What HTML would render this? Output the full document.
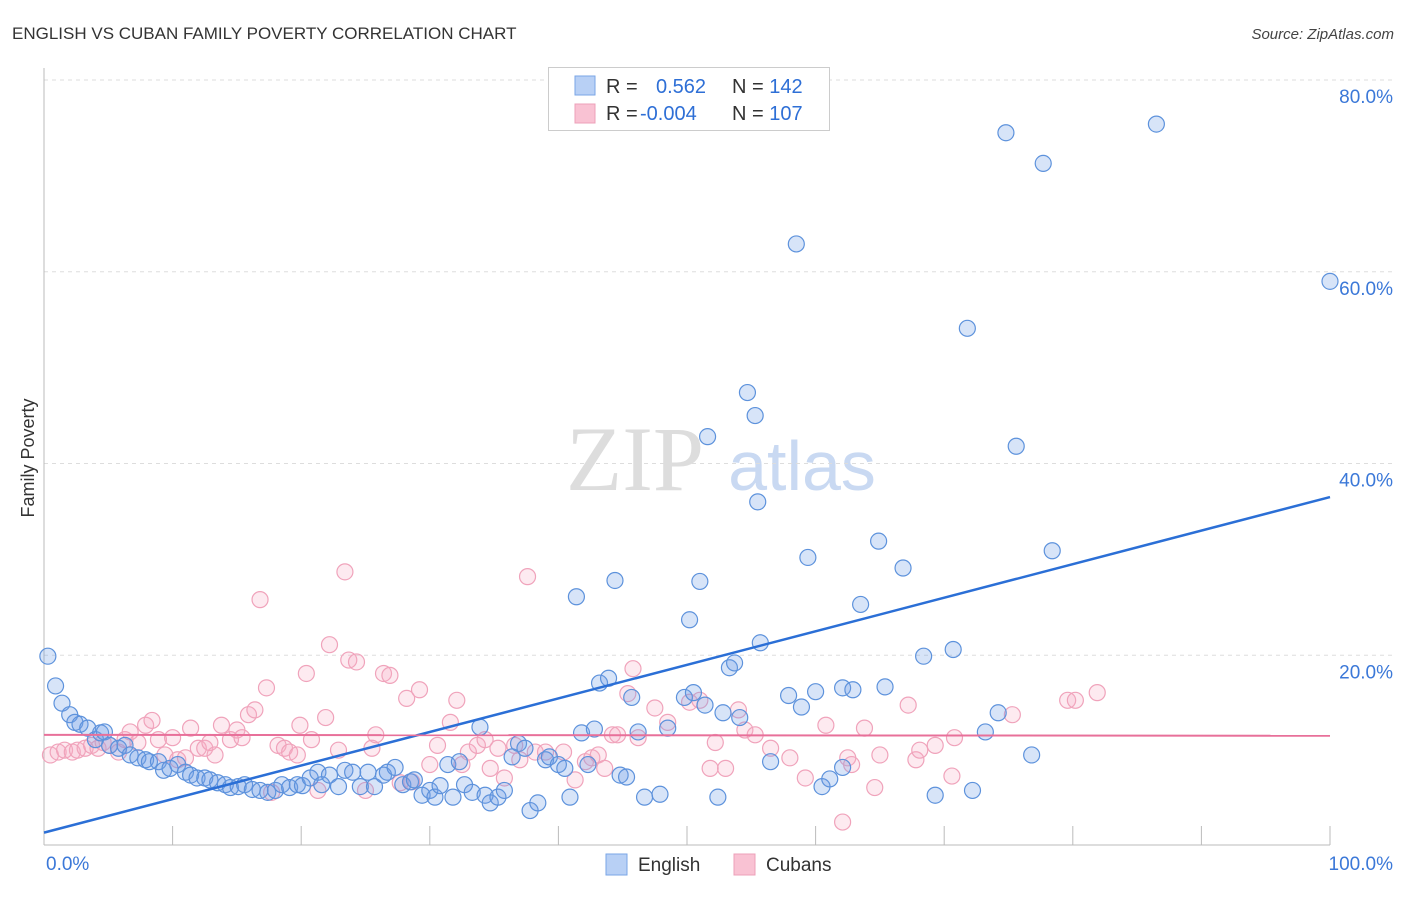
<!DOCTYPE html>
<html><head><meta charset="utf-8"><style>
body{margin:0;background:#fff;font-family:"Liberation Sans",sans-serif}
svg text{font-family:"Liberation Sans",sans-serif}
</style></head><body>
<svg id="chart" width="1406" height="892">
<text x="12" y="39" font-size="17" fill="#333">ENGLISH VS CUBAN FAMILY POVERTY CORRELATION CHART</text>
<text x="1394" y="39" font-size="15" fill="#444" font-style="italic" text-anchor="end">Source: ZipAtlas.com</text>
<text x="34" y="458" font-size="18" fill="#333" transform="rotate(-90 34 458)" text-anchor="middle">Family Poverty</text>
<g>
<text x="635" y="490" font-size="92" fill="#ddd" font-family="Liberation Serif" text-anchor="middle" style="font-family:'Liberation Serif',serif">ZIP</text>
<text x="802" y="490" font-size="70" fill="#c9d9f2" text-anchor="middle">atlas</text>
</g>
<g id="grid"></g><g id="pts"></g><g id="trends"></g>
<g>
<rect x="548.5" y="67.5" width="281" height="63" fill="#fff" stroke="#ccc"/>
<rect x="575" y="76" width="20" height="19" fill="#b8d0f5" stroke="#7aa6e6"/>
<rect x="575" y="104" width="20" height="19" fill="#f9c2d3" stroke="#eda0b8"/>
<text x="606" y="93" font-size="20" fill="#333">R = <tspan x="656" fill="#2e6fd6">0.562</tspan><tspan x="732" fill="#333">N = </tspan><tspan fill="#2e6fd6">142</tspan></text>
<text x="606" y="120" font-size="20" fill="#333">R = <tspan x="640" fill="#2e6fd6">-0.004</tspan><tspan x="732" fill="#333">N = </tspan><tspan fill="#2e6fd6">107</tspan></text>
</g>
<g>
<rect x="606" y="854" width="21" height="21" fill="#b8d0f5" stroke="#7aa6e6"/>
<text x="638" y="871" font-size="19" fill="#333">English</text>
<rect x="734" y="854" width="21" height="21" fill="#f9c2d3" stroke="#eda0b8"/>
<text x="766" y="871" font-size="19" fill="#333">Cubans</text>
</g>
</svg>
<script>
const xTicks=[0,10,20,30,40,50,60,70,80,90,100];
const yTicks=[20,40,60,80];
const yTickLabels=["20.0%","40.0%","60.0%","80.0%"];
const xLabels=["0.0%","100.0%"];
const engX=[0.3,0.9,1.4,2.0,2.4,2.8,3.4,4.0,4.4,4.7,5.1,5.8,6.3,6.7,7.3,7.9,8.2,8.9,9.3,9.8,10.4,11.0,11.4,11.9,12.5,12.9,13.5,14.1,14.5,15.1,15.6,16.2,16.8,17.4,18.0,18.5,19.1,19.7,20.1,20.7,21.3,21.6,22.2,22.9,23.4,24.0,24.6,25.2,25.7,26.4,26.7,27.3,27.9,28.5,28.8,29.4,30.0,30.4,30.8,31.4,31.8,32.3,32.7,33.3,33.9,34.3,34.7,35.3,35.8,36.4,36.9,37.4,37.8,38.4,39.0,39.3,40.0,40.5,40.9,41.4,41.8,42.3,42.8,43.2,43.9,44.4,44.8,45.3,45.7,46.2,46.7,47.9,48.5,49.8,50.2,50.5,51.0,51.4,51.6,52.4,52.8,53.3,53.7,54.1,54.7,55.3,55.5,55.7,56.5,57.9,58.5,58.9,59.4,60.0,60.5,61.1,62.1,62.1,62.9,63.5,64.9,65.4,66.8,68.4,69.3,70.7,71.8,72.2,73.2,74.2,74.8,75.6,76.8,77.7,78.4,86.5,100.0];
const engY=[19.9,16.8,15.0,13.8,13.0,12.8,12.4,11.2,11.9,12.0,10.6,10.3,10.6,9.6,9.3,9.1,8.9,8.9,8.0,8.2,8.6,7.8,7.5,7.2,7.2,7.0,6.7,6.5,6.2,6.3,6.5,6.0,5.9,5.7,5.9,6.5,6.2,6.5,6.4,7.2,7.8,6.5,7.5,6.3,8.0,7.8,6.3,7.8,6.3,7.5,7.8,8.3,6.5,6.8,7.0,5.4,5.9,5.2,6.4,8.6,5.2,8.9,6.5,5.7,12.5,5.4,4.6,5.2,5.9,9.4,10.8,10.3,3.8,4.6,9.1,9.4,8.6,8.2,5.2,26.1,11.9,8.6,12.3,17.1,17.6,27.8,7.5,7.3,15.6,12.0,5.2,5.5,12.4,15.6,23.7,16.1,27.7,14.8,42.8,5.2,14.0,18.7,19.2,13.5,47.4,45.0,36.0,21.3,8.9,15.8,62.9,14.6,30.2,16.2,6.3,7.1,8.3,16.6,16.4,25.3,31.9,16.7,29.1,19.9,5.4,20.6,54.1,5.9,12.0,14.0,74.5,41.8,9.6,71.3,30.9,75.4,59.0];
const cubX=[0.5,1.1,1.6,2.2,2.6,3.2,3.7,4.2,4.6,5.1,5.8,6.3,6.7,7.3,7.9,8.4,8.9,9.4,10.0,10.4,11.0,11.4,12.0,12.5,12.9,13.3,13.8,14.5,15.0,15.4,15.9,16.4,16.8,17.3,17.7,18.2,18.7,19.1,19.7,19.9,20.4,20.8,21.3,21.9,22.2,22.9,23.4,23.7,24.3,25.0,25.5,25.8,26.4,26.9,27.7,28.2,28.6,29.2,30.0,30.6,31.6,32.1,32.5,33.0,33.7,34.3,34.7,35.3,35.8,36.6,37.0,37.6,38.2,39.0,40.4,41.3,42.1,42.6,43.1,43.6,44.2,44.6,45.4,45.8,46.2,47.5,48.5,50.2,51.0,51.8,52.2,53.0,54.0,54.5,55.3,56.5,58.0,59.2,60.8,62.1,62.5,62.8,63.8,64.6,65.0,67.2,67.8,68.1,69.3,70.6,70.8,75.3,79.6,80.2,81.9];
const cubY=[9.6,9.9,10.1,9.9,10.1,10.3,10.6,10.3,10.9,10.6,9.9,11.2,12.0,10.9,12.7,13.2,11.2,9.6,11.4,9.1,9.3,12.4,10.3,10.3,10.9,9.6,12.7,11.2,12.2,11.4,13.8,14.3,25.8,16.6,5.7,10.6,10.3,9.9,9.6,12.7,18.1,11.2,5.9,13.5,21.1,10.1,28.7,19.5,19.3,5.9,10.3,11.7,18.1,17.9,6.7,15.5,6.8,16.4,8.6,10.6,13.0,15.3,8.6,9.9,10.6,11.2,8.2,10.3,7.2,10.6,9.1,28.2,9.9,9.9,9.9,7.0,8.9,9.3,9.6,8.2,11.7,11.7,16.0,18.6,11.4,14.5,13.0,15.1,15.3,8.2,10.9,8.2,14.3,12.2,11.7,10.3,9.3,7.2,12.7,2.6,9.3,8.6,12.4,6.2,9.6,14.8,9.1,10.1,10.6,7.4,11.4,13.8,15.3,15.3,16.1];
const engTrend=[1.5,36.5];
const cubTrend=[11.7,11.6];
const NS="http://www.w3.org/2000/svg";
const X0=44,X1=1330,Y0=847,Y80=80;
const sx=v=>X0+(X1-X0)*v/100;
const sy=v=>Y0-(Y0-Y80)*v/80;
function mk(t,a,p){const e=document.createElementNS(NS,t);for(const k in a)e.setAttribute(k,a[k]);p.appendChild(e);return e;}
const grid=document.getElementById('grid');
yTicks.forEach((v,i)=>{
 const l=mk('line',{x1:X0,x2:1394,y1:sy(v),y2:sy(v),stroke:'#ddd','stroke-dasharray':'4,4'},grid);
 
 
 const t=mk('text',{x:1393,y:sy(v)+23,'font-size':19,fill:'#3b78d8','text-anchor':'end'},grid);
 t.textContent=yTickLabels[i];
 
 
});
const ax=mk('line',{x1:X0,x2:X1,y1:845,y2:845,stroke:'#bbb'},grid);


const ay=mk('line',{x1:X0,x2:X0,y1:68,y2:845,stroke:'#bbb'},grid);


xTicks.forEach(v=>{
 const t=mk('line',{x1:sx(v),x2:sx(v),y1:826,y2:845,stroke:'#bbb'},grid);
 
 
});
const xl0=mk('text',{x:46,y:870,'font-size':19,fill:'#3b78d8'},grid);xl0.textContent=xLabels[0];


const xl1=mk('text',{x:1393,y:870,'font-size':19,fill:'#3b78d8','text-anchor':'end'},grid);xl1.textContent=xLabels[1];


const pts=document.getElementById('pts');
cubX.forEach((v,i)=>{
 const c=mk('circle',{cx:sx(v),cy:sy(cubY[i]),r:8,fill:'rgba(246,170,196,0.25)',stroke:'#f0a3bb','stroke-width':1.2},pts);
 
 
});
engX.forEach((v,i)=>{
 const c=mk('circle',{cx:sx(v),cy:sy(engY[i]),r:8,fill:'rgba(110,158,230,0.28)',stroke:'#5d92dc','stroke-width':1.2},pts);
 
 
});
const tr=document.getElementById('trends');
const l1=mk('line',{x1:sx(0),x2:sx(100),y1:sy(engTrend[0]),y2:sy(engTrend[1]),stroke:'#2b6fd6','stroke-width':2.5},tr);


const l2=mk('line',{x1:sx(0),x2:sx(100),y1:sy(cubTrend[0]),y2:sy(cubTrend[1]),stroke:'#e8709a','stroke-width':2},tr);


</script>
</body></html>
